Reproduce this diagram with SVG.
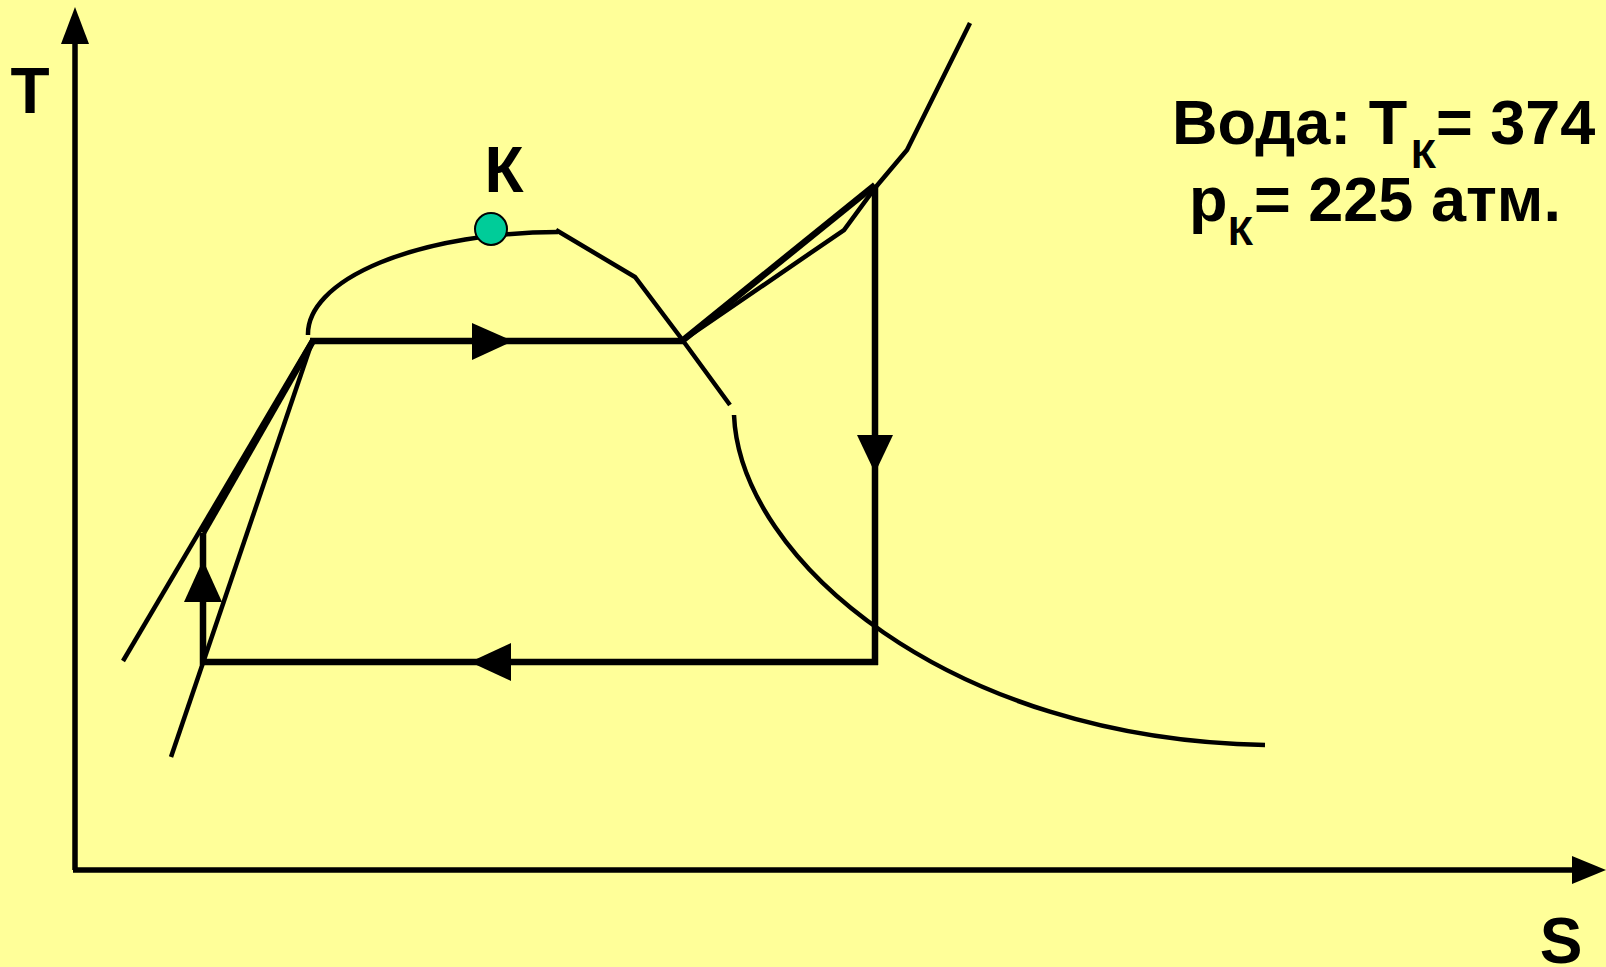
<svg xmlns="http://www.w3.org/2000/svg" width="1606" height="967" viewBox="0 0 1606 967">
<style>
.t{font-family:"Liberation Sans",Arial,sans-serif;font-weight:bold;fill:#000}
.thin{fill:none;stroke:#000;stroke-width:4.5}
.cyc{fill:none;stroke:#000;stroke-width:6.5}
.ax{fill:none;stroke:#000;stroke-width:5.5}
.ah{fill:#000;stroke:none}
</style>
<rect width="1606" height="967" fill="#FFFF99"/>
<g id="axes">
<line class="ax" x1="75" y1="40" x2="75" y2="870"/>
<polygon class="ah" points="75,7 61,44 89,44"/>
<line class="ax" x1="73" y1="870" x2="1575" y2="870"/>
<polygon class="ah" points="1606,870 1572,856 1572,884"/>
<text class="t" x="30" y="113" font-size="64" text-anchor="middle">T</text>
<text class="t" x="1561" y="963" font-size="64" text-anchor="middle">S</text>
</g>
<g id="saturation-curves">
<path class="thin" d="M308,335 A252,102 0 0 1 558,232"/>
<polyline class="thin" points="556,230 635,277 681,338 730,405"/>
<path class="thin" d="M734,415 C740,560 950,740 1265,745"/>
</g>
<g id="isobar-lines">
<line class="thin" x1="313" y1="339" x2="123" y2="661"/>
<line class="thin" x1="313" y1="339" x2="171" y2="757"/>
<polyline class="thin" points="682,341 844,230 875,188 907,150 970,23"/>
</g>
<g id="cycle">
<line class="cyc" x1="310" y1="341" x2="683" y2="341"/>
<line class="cyc" x1="682" y1="341" x2="875" y2="185"/>
<line class="cyc" x1="875" y1="185" x2="875" y2="665"/>
<line class="cyc" x1="878" y1="662" x2="203" y2="662"/>
<line class="cyc" x1="203" y1="665" x2="203" y2="533"/>
<line class="cyc" x1="203" y1="533" x2="313" y2="341"/>
<polygon class="ah" points="513,341 472,323 472,360"/>
<polygon class="ah" points="875,473 857,435 893,435"/>
<polygon class="ah" points="470,662 511,643 511,681"/>
<polygon class="ah" points="203,560 184,602 222,602"/>
</g>
<g id="critical-point">
<circle cx="491" cy="229" r="16" fill="#00CC99" stroke="#000" stroke-width="2"/>
<text class="t" x="504" y="192" font-size="64" text-anchor="middle">К</text>
</g>
<g id="label">
<text class="t" x="1172" y="144" font-size="63">Вода: Т<tspan font-size="41" x="1411" y="168">К</tspan><tspan x="1436" y="144">= 374</tspan></text>
<text class="t" x="1189" y="221" font-size="63">p<tspan font-size="41" x="1228" y="245">К</tspan><tspan x="1254" y="221">= 225 атм.</tspan></text>
</g>
</svg>
